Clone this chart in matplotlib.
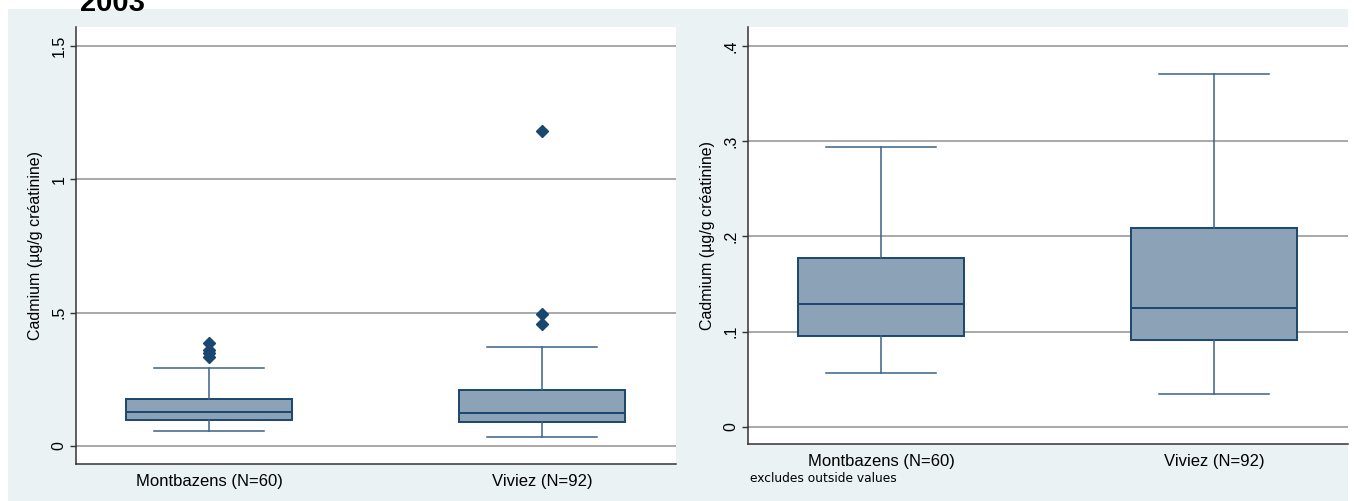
import matplotlib.pyplot as plt
from matplotlib.patches import Rectangle

# données
groupes = ['Montbazens (N=60)', 'Viviez (N=92)']
whislo = [0.057, 0.035]
q1 = [0.096, 0.091]
med = [0.129, 0.125]
q3 = [0.177, 0.209]
whishi = [0.294, 0.371]
outliers = [[0.386, 0.360, 0.347, 0.334], [1.18, 0.495, 0.457]]

ticks_g = [0, 0.5, 1, 1.5]
ticklab_g = ['0', '.5', '1', '1.5']
ticks_d = [0, 0.1, 0.2, 0.3, 0.4]
ticklab_d = ['0', '.1', '.2', '.3', '.4']

navy = '#1a476f'
fill = '#8ca3b7'
plt.rcParams['font.family'] = ['Liberation Sans', 'DejaVu Sans']

W, H = 1354, 501
fig = plt.figure(figsize=(W / 100, H / 100), dpi=100)
fig.patches.append(Rectangle((8 / W, 0), 1340 / W, 492 / H, transform=fig.transFigure,
                             facecolor='#eaf2f3', edgecolor='none', zorder=-10))

pos = [0.222, 0.777]


def panel(rect, ylim, ticks, labels, with_out):
    ax = fig.add_axes(rect)
    ax.set_zorder(1)
    stats = []
    for i in range(2):
        stats.append(dict(whislo=whislo[i], q1=q1[i], med=med[i], q3=q3[i],
                          whishi=whishi[i], fliers=outliers[i] if with_out else []))
    ax.bxp(stats, positions=pos, widths=0.277, capwidths=0.183, patch_artist=True,
           showfliers=with_out,
           boxprops=dict(facecolor=fill, edgecolor=navy, linewidth=1.4),
           medianprops=dict(color=navy, linewidth=1.4),
           whiskerprops=dict(color='#3a6288', linewidth=1.1),
           capprops=dict(color='#3a6288', linewidth=1.1),
           flierprops=dict(marker='D', markersize=6, markerfacecolor=navy,
                           markeredgecolor=navy))
    ax.set_xlim(0, 1)
    ax.set_ylim(*ylim)
    ax.set_yticks(ticks)
    ax.set_yticklabels(labels, rotation=90, va='center', fontsize=11.5)
    ax.set_xticks(pos)
    ax.set_xticklabels(groupes, fontsize=12)
    ax.tick_params(axis='x', length=0, pad=7)
    ax.tick_params(axis='y', length=4, width=1, pad=3, color='#333333')
    for t in ticks:
        ax.axhline(t, color='#9a9a9a', linewidth=1.2, zorder=0.5)
    ax.spines['top'].set_visible(False)
    ax.spines['right'].set_visible(False)
    for s in ['left', 'bottom']:
        ax.spines[s].set_color('#333333')
        ax.spines[s].set_linewidth(1.1)
    ax.text(-0.067, 0.5, 'Cadmium (µg/g créatinine)', rotation=90, ha='center',
            va='center', fontsize=11.5, transform=ax.transAxes)
    return ax


panel([76 / W, 37 / H, 600 / W, 437 / H], (-0.0675, 1.571), ticks_g, ticklab_g, True)
panel([748 / W, 57 / H, 600 / W, 417 / H], (-0.0179, 0.42), ticks_d, ticklab_d, False)

fig.text(750 / W, (H - 478) / H, 'excludes outside values', fontsize=8.8,
         family='DejaVu Sans', va='center')
fig.text(80 / W, (H - 11) / H, '2003', fontsize=21, fontweight='bold', va='baseline')

fig.savefig('out.png', dpi=100)
